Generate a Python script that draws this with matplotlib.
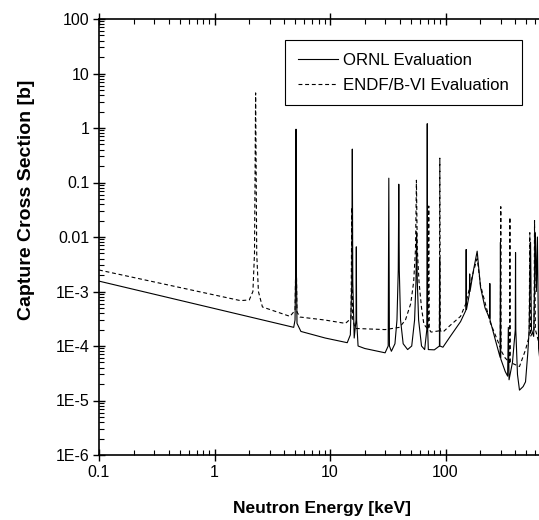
import matplotlib
matplotlib.use("Agg")
import matplotlib.pyplot as plt
from matplotlib.ticker import FixedLocator, FixedFormatter, LogLocator, NullFormatter

plt.rcParams['font.family'] = ['Liberation Sans', 'DejaVu Sans']

# ORNL evaluation, energy [keV] and capture cross section [b]
ornl_e = [0.1, 4.85, 4.98, 5.05, 5.08, 5.11, 5.18, 5.6, 9.1, 14.1,
          15.0, 15.45, 15.6, 15.75, 16.2, 16.8, 16.9, 17.0, 17.5, 20, 30,
          31.9, 32.3, 32.7, 34, 36.5, 38.0, 39.0, 39.4, 39.8, 40.8, 43, 47,
          51, 54, 55.5, 56.2, 57.0, 58.5, 62, 66, 68.9, 69.5, 70.1, 71, 80,
          88.6, 89.0, 89.4, 95, 110, 135, 150, 151, 152, 161, 162, 163, 175,
          188, 201, 220, 241, 242, 243, 270, 297, 299, 301, 329, 345, 350,
          355, 380, 402, 404, 406, 420, 437, 470, 493, 516, 530, 545, 555,
          580, 600, 612, 625, 640, 660, 700]
ornl_xs = [1.55e-3, 2.2e-4, 3.0e-4, 3e-3, 0.95, 3e-3, 2.6e-4, 1.85e-4, 1.4e-4, 1.15e-4,
           1.6e-4, 1.5e-3, 0.41, 1.5e-3, 1.4e-4, 3e-4, 6.6e-3, 3e-4, 1.0e-4, 9.0e-5, 7.5e-5,
           1.0e-4, 0.12, 1.0e-4, 8.0e-5, 1.1e-4, 3.0e-4, 2.5e-3, 0.093, 2.5e-3, 3.0e-4, 1.1e-4, 8.6e-5,
           1.0e-4, 3.0e-4, 1.5e-3, 0.0125, 1.5e-3, 3.0e-4, 1.0e-4, 8.6e-5, 2e-4, 1.2, 2e-4, 8.6e-5, 8.5e-5,
           1.0e-4, 4e-3, 1.0e-4, 9.5e-5, 1.5e-4, 2.8e-4, 4.5e-4, 5.9e-3, 4.7e-4, 9e-4, 2.1e-3, 1.0e-3, 2.5e-3,
           5.5e-3, 1.2e-3, 5e-4, 3.2e-4, 1.4e-3, 3.0e-4, 1.3e-4, 6.2e-5, 8e-3, 5.8e-5, 3.4e-5, 2.8e-5, 2.2e-4,
           2.4e-5, 5e-5, 2e-4, 5.2e-3, 2e-4, 3.0e-5, 1.55e-5, 1.8e-5, 2.2e-5, 7.5e-5, 2e-4, 8e-3, 2e-4,
           1.5e-4, 0.012, 1e-3, 0.01, 9e-5, 5e-5, 4e-5]

# ENDF/B-VI evaluation
endf_e = [0.1, 1.68, 2.0, 2.15, 2.22, 2.27, 2.32, 2.4, 2.6, 4.5, 4.98, 5.05, 5.08,
          5.11, 5.18, 5.5, 9.0, 13.6, 15.2, 15.45, 15.7, 16.5, 30, 40, 45, 50,
          53, 55, 56, 57, 59, 62, 65, 70.8, 71.6, 72.4, 75, 88.5, 89.3, 90.1,
          95, 110, 135, 150, 175, 188, 201, 244, 298, 301, 303, 305, 329, 359,
          361, 363, 437, 493, 530, 537, 545, 585, 590, 600, 640, 700]
endf_xs = [2.48e-3, 6.8e-4, 7.0e-4, 1.0e-3, 5e-3, 4.4, 5e-3, 1.0e-3, 5.2e-4, 3.5e-4, 4.5e-4, 3e-3, 0.9,
           3e-3, 4.2e-4, 3.4e-4, 3.0e-4, 2.6e-4, 3.2e-4, 0.035, 3.2e-4, 2.1e-4, 2.0e-4, 2.2e-4, 3.0e-4, 6e-4,
           1.5e-3, 6e-3, 0.11, 6e-3, 1.5e-3, 5e-4, 2.5e-4, 2.0e-4, 0.037, 2.0e-4, 1.8e-4, 1.9e-4, 0.28, 1.9e-4,
           1.8e-4, 2.4e-4, 3.5e-4, 6e-4, 2.4e-3, 4e-3, 1.3e-3, 2.7e-4, 9.5e-5, 0.036, 9e-5, 8e-5, 6e-5, 5e-5,
           0.023, 5e-5, 4.2e-5, 8.5e-5, 1.5e-4, 0.012, 1.5e-4, 2e-4, 0.02, 2e-4, 1.2e-4, 1e-4]

x_ticks = [0.1, 1, 10, 100, 1000]
x_labels = ['0.1', '1', '10', '100', '']
y_ticks = [1e-6, 1e-5, 1e-4, 1e-3, 0.01, 0.1, 1, 10, 100]
y_labels = ['1E-6', '1E-5', '1E-4', '1E-3', '0.01', '0.1', '1', '10', '100']

fig = plt.figure(figsize=(5.39, 5.20), dpi=100)
# axes run to 1000 keV, right part falls outside the picture
ax = fig.add_axes([99/539, 65/520, 462/539, 436/520])

ax.plot(ornl_e, ornl_xs, color='black', lw=0.8, label='ORNL Evaluation')
ax.plot(endf_e, endf_xs, color='black', lw=0.8, dashes=(3.5, 2.5), label='ENDF/B-VI Evaluation')

ax.set_xscale('log')
ax.set_yscale('log')
ax.set_xlim(0.1, 1000)
ax.set_ylim(1e-6, 100)

ax.xaxis.set_major_locator(FixedLocator(x_ticks))
ax.xaxis.set_major_formatter(FixedFormatter(x_labels))
ax.yaxis.set_major_locator(FixedLocator(y_ticks))
ax.yaxis.set_major_formatter(FixedFormatter(y_labels))
ax.xaxis.set_minor_locator(LogLocator(base=10, subs=range(2, 10), numticks=20))
ax.yaxis.set_minor_locator(LogLocator(base=10, subs=range(2, 10), numticks=20))
ax.xaxis.set_minor_formatter(NullFormatter())
ax.yaxis.set_minor_formatter(NullFormatter())

ax.tick_params(which='major', direction='inout', length=8, width=1, labelsize=11.5,
               top=True, right=True, pad=3)
ax.tick_params(which='minor', direction='in', length=3.5, width=0.8, top=True, right=True)
for s in ax.spines.values():
    s.set_linewidth(1.2)

ax.set_xlabel('Neutron Energy [keV]', fontsize=12.5, fontweight='bold')
ax.set_ylabel('Capture Cross Section [b]', fontsize=14, fontweight='bold')
ax.xaxis.set_label_coords(0.483, -0.105)
ax.yaxis.set_label_coords(-0.139, 0.585)

leg = ax.legend(loc='upper left', bbox_to_anchor=(0.403, 0.952), borderaxespad=0,
                fancybox=False, framealpha=1, edgecolor='black', fontsize=12.1,
                handlelength=2.4, handletextpad=0.3, borderpad=0.75, labelspacing=0.6)
leg.get_frame().set_linewidth(0.8)

fig.savefig('out.png', dpi=100)
